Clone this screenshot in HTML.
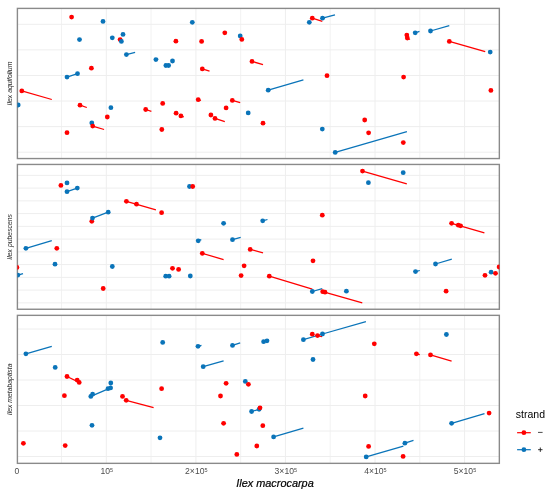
<!DOCTYPE html><html><head><meta charset="utf-8"><style>html,body{margin:0;padding:0;background:#fff;}svg{display:block;}text{font-family:"Liberation Sans",sans-serif;}</style></head><body>
<div style="width:550px;height:494px;will-change:transform;background:#fff"><svg width="550" height="494" viewBox="0 0 550 494">
<rect width="550" height="494" fill="#fff"/>
<defs>
<clipPath id="c0"><rect x="17.4" y="8.4" width="482.0" height="150.2"/></clipPath>
<clipPath id="c1"><rect x="17.4" y="164.45" width="482.0" height="144.8"/></clipPath>
<clipPath id="c2"><rect x="17.4" y="315.35" width="482.0" height="148.0"/></clipPath>
</defs>
<g clip-path="url(#c0)"><line x1="61.5" y1="8.4" x2="61.5" y2="158.55" stroke="#f1f1f1" stroke-width="0.9"/><line x1="151.1" y1="8.4" x2="151.1" y2="158.55" stroke="#f1f1f1" stroke-width="0.9"/><line x1="240.7" y1="8.4" x2="240.7" y2="158.55" stroke="#f1f1f1" stroke-width="0.9"/><line x1="330.2" y1="8.4" x2="330.2" y2="158.55" stroke="#f1f1f1" stroke-width="0.9"/><line x1="419.8" y1="8.4" x2="419.8" y2="158.55" stroke="#f1f1f1" stroke-width="0.9"/><line x1="106.3" y1="8.4" x2="106.3" y2="158.55" stroke="#eeeeee" stroke-width="1"/><line x1="195.9" y1="8.4" x2="195.9" y2="158.55" stroke="#eeeeee" stroke-width="1"/><line x1="285.4" y1="8.4" x2="285.4" y2="158.55" stroke="#eeeeee" stroke-width="1"/><line x1="375.0" y1="8.4" x2="375.0" y2="158.55" stroke="#eeeeee" stroke-width="1"/><line x1="464.6" y1="8.4" x2="464.6" y2="158.55" stroke="#eeeeee" stroke-width="1"/><line x1="17.4" y1="24.3" x2="499.35" y2="24.3" stroke="#eeeeee" stroke-width="1"/><line x1="17.4" y1="49.879999999999995" x2="499.35" y2="49.879999999999995" stroke="#eeeeee" stroke-width="1"/><line x1="17.4" y1="75.46" x2="499.35" y2="75.46" stroke="#eeeeee" stroke-width="1"/><line x1="17.4" y1="101.03999999999999" x2="499.35" y2="101.03999999999999" stroke="#eeeeee" stroke-width="1"/><line x1="17.4" y1="126.61999999999999" x2="499.35" y2="126.61999999999999" stroke="#eeeeee" stroke-width="1"/><line x1="17.4" y1="152.2" x2="499.35" y2="152.2" stroke="#eeeeee" stroke-width="1"/></g>
<rect x="17.4" y="8.4" width="481.95" height="150.15" fill="none" stroke="#8a8a8a" stroke-width="1.4"/>
<g clip-path="url(#c0)">
<line x1="67.0" y1="77.10" x2="77.5" y2="73.70" stroke="#0a74b9" stroke-width="1.25"/>
<line x1="126.4" y1="54.60" x2="135.1" y2="52.30" stroke="#0a74b9" stroke-width="1.25"/>
<line x1="155.9" y1="59.60" x2="158.2" y2="58.90" stroke="#0a74b9" stroke-width="1.25"/>
<line x1="202.3" y1="68.90" x2="209.5" y2="71.20" stroke="#ff0000" stroke-width="1.25"/>
<line x1="252.0" y1="61.40" x2="263.0" y2="64.60" stroke="#ff0000" stroke-width="1.25"/>
<line x1="312.3" y1="18.20" x2="322.3" y2="21.40" stroke="#ff0000" stroke-width="1.25"/>
<line x1="322.5" y1="18.20" x2="335.0" y2="14.80" stroke="#0a74b9" stroke-width="1.25"/>
<line x1="407.3" y1="38.00" x2="410.0" y2="39.50" stroke="#ff0000" stroke-width="1.25"/>
<line x1="415.2" y1="32.80" x2="419.5" y2="31.40" stroke="#0a74b9" stroke-width="1.25"/>
<line x1="430.5" y1="31.00" x2="449.3" y2="25.70" stroke="#0a74b9" stroke-width="1.25"/>
<line x1="449.3" y1="41.40" x2="485.2" y2="51.70" stroke="#ff0000" stroke-width="1.25"/>
<line x1="21.8" y1="90.90" x2="51.8" y2="99.50" stroke="#ff0000" stroke-width="1.25"/>
<line x1="80.0" y1="105.20" x2="86.8" y2="107.50" stroke="#ff0000" stroke-width="1.25"/>
<line x1="92.7" y1="126.10" x2="104.1" y2="129.50" stroke="#ff0000" stroke-width="1.25"/>
<line x1="145.7" y1="109.50" x2="151.4" y2="111.30" stroke="#ff0000" stroke-width="1.25"/>
<line x1="198.2" y1="99.70" x2="201.0" y2="100.50" stroke="#ff0000" stroke-width="1.25"/>
<line x1="180.9" y1="115.90" x2="183.9" y2="117.00" stroke="#ff0000" stroke-width="1.25"/>
<line x1="215.0" y1="118.40" x2="224.8" y2="121.60" stroke="#ff0000" stroke-width="1.25"/>
<line x1="232.3" y1="100.40" x2="240.2" y2="102.70" stroke="#ff0000" stroke-width="1.25"/>
<line x1="268.2" y1="90.20" x2="303.4" y2="79.80" stroke="#0a74b9" stroke-width="1.25"/>
<line x1="335.2" y1="152.40" x2="406.9" y2="131.60" stroke="#0a74b9" stroke-width="1.25"/>
<circle cx="71.6" cy="17.10" r="2.4" fill="#ff0000"/>
<circle cx="103.0" cy="21.40" r="2.4" fill="#0a74b9"/>
<circle cx="79.5" cy="39.60" r="2.4" fill="#0a74b9"/>
<circle cx="112.3" cy="37.80" r="2.4" fill="#0a74b9"/>
<circle cx="123.0" cy="34.40" r="2.4" fill="#0a74b9"/>
<circle cx="120.1" cy="39.60" r="2.4" fill="#ff0000"/>
<circle cx="121.4" cy="41.40" r="2.4" fill="#0a74b9"/>
<circle cx="126.4" cy="54.60" r="2.4" fill="#0a74b9"/>
<circle cx="91.4" cy="68.20" r="2.4" fill="#ff0000"/>
<circle cx="67.0" cy="77.10" r="2.4" fill="#0a74b9"/>
<circle cx="77.5" cy="73.70" r="2.4" fill="#0a74b9"/>
<circle cx="192.3" cy="22.30" r="2.4" fill="#0a74b9"/>
<circle cx="175.9" cy="41.20" r="2.4" fill="#ff0000"/>
<circle cx="201.6" cy="41.40" r="2.4" fill="#ff0000"/>
<circle cx="224.8" cy="32.80" r="2.4" fill="#ff0000"/>
<circle cx="240.2" cy="36.00" r="2.4" fill="#0a74b9"/>
<circle cx="241.8" cy="39.40" r="2.4" fill="#ff0000"/>
<circle cx="155.9" cy="59.60" r="2.4" fill="#0a74b9"/>
<circle cx="165.9" cy="65.50" r="2.4" fill="#0a74b9"/>
<circle cx="168.6" cy="65.50" r="2.4" fill="#0a74b9"/>
<circle cx="172.5" cy="61.00" r="2.4" fill="#0a74b9"/>
<circle cx="202.3" cy="68.90" r="2.4" fill="#ff0000"/>
<circle cx="252.0" cy="61.40" r="2.4" fill="#ff0000"/>
<circle cx="309.3" cy="22.30" r="2.4" fill="#0a74b9"/>
<circle cx="312.3" cy="18.20" r="2.4" fill="#ff0000"/>
<circle cx="322.5" cy="18.20" r="2.4" fill="#0a74b9"/>
<circle cx="327.0" cy="75.70" r="2.4" fill="#ff0000"/>
<circle cx="406.8" cy="35.10" r="2.4" fill="#ff0000"/>
<circle cx="407.3" cy="38.00" r="2.4" fill="#ff0000"/>
<circle cx="415.2" cy="32.80" r="2.4" fill="#0a74b9"/>
<circle cx="430.5" cy="31.00" r="2.4" fill="#0a74b9"/>
<circle cx="449.3" cy="41.40" r="2.4" fill="#ff0000"/>
<circle cx="490.2" cy="52.10" r="2.4" fill="#0a74b9"/>
<circle cx="403.6" cy="77.10" r="2.4" fill="#ff0000"/>
<circle cx="21.8" cy="90.90" r="2.4" fill="#ff0000"/>
<circle cx="18.2" cy="105.00" r="2.4" fill="#0a74b9"/>
<circle cx="80.0" cy="105.20" r="2.4" fill="#ff0000"/>
<circle cx="110.9" cy="107.70" r="2.4" fill="#0a74b9"/>
<circle cx="107.3" cy="117.00" r="2.4" fill="#ff0000"/>
<circle cx="91.8" cy="122.90" r="2.4" fill="#0a74b9"/>
<circle cx="92.7" cy="126.10" r="2.4" fill="#ff0000"/>
<circle cx="67.0" cy="132.70" r="2.4" fill="#ff0000"/>
<circle cx="145.7" cy="109.50" r="2.4" fill="#ff0000"/>
<circle cx="162.7" cy="103.40" r="2.4" fill="#ff0000"/>
<circle cx="161.8" cy="129.50" r="2.4" fill="#ff0000"/>
<circle cx="176.1" cy="113.20" r="2.4" fill="#ff0000"/>
<circle cx="180.9" cy="115.90" r="2.4" fill="#ff0000"/>
<circle cx="198.2" cy="99.70" r="2.4" fill="#ff0000"/>
<circle cx="210.9" cy="115.00" r="2.4" fill="#ff0000"/>
<circle cx="215.0" cy="118.40" r="2.4" fill="#ff0000"/>
<circle cx="226.1" cy="107.90" r="2.4" fill="#ff0000"/>
<circle cx="232.3" cy="100.40" r="2.4" fill="#ff0000"/>
<circle cx="248.2" cy="112.90" r="2.4" fill="#0a74b9"/>
<circle cx="268.2" cy="90.20" r="2.4" fill="#0a74b9"/>
<circle cx="263.0" cy="123.20" r="2.4" fill="#ff0000"/>
<circle cx="322.3" cy="129.10" r="2.4" fill="#0a74b9"/>
<circle cx="364.7" cy="120.00" r="2.4" fill="#ff0000"/>
<circle cx="368.6" cy="132.80" r="2.4" fill="#ff0000"/>
<circle cx="335.2" cy="152.40" r="2.4" fill="#0a74b9"/>
<circle cx="490.9" cy="90.40" r="2.4" fill="#ff0000"/>
<circle cx="403.3" cy="142.60" r="2.4" fill="#ff0000"/>
</g>
<text x="0" y="0" transform="translate(12.2,83.5) rotate(-90)" text-anchor="middle" font-size="6.85" font-style="italic" fill="#262626">Ilex aquifolium</text>
<g clip-path="url(#c1)"><line x1="61.5" y1="164.45" x2="61.5" y2="309.25" stroke="#f1f1f1" stroke-width="0.9"/><line x1="151.1" y1="164.45" x2="151.1" y2="309.25" stroke="#f1f1f1" stroke-width="0.9"/><line x1="240.7" y1="164.45" x2="240.7" y2="309.25" stroke="#f1f1f1" stroke-width="0.9"/><line x1="330.2" y1="164.45" x2="330.2" y2="309.25" stroke="#f1f1f1" stroke-width="0.9"/><line x1="419.8" y1="164.45" x2="419.8" y2="309.25" stroke="#f1f1f1" stroke-width="0.9"/><line x1="106.3" y1="164.45" x2="106.3" y2="309.25" stroke="#eeeeee" stroke-width="1"/><line x1="195.9" y1="164.45" x2="195.9" y2="309.25" stroke="#eeeeee" stroke-width="1"/><line x1="285.4" y1="164.45" x2="285.4" y2="309.25" stroke="#eeeeee" stroke-width="1"/><line x1="375.0" y1="164.45" x2="375.0" y2="309.25" stroke="#eeeeee" stroke-width="1"/><line x1="464.6" y1="164.45" x2="464.6" y2="309.25" stroke="#eeeeee" stroke-width="1"/><line x1="17.4" y1="175.35" x2="499.35" y2="175.35" stroke="#eeeeee" stroke-width="1"/><line x1="17.4" y1="188.1" x2="499.35" y2="188.1" stroke="#eeeeee" stroke-width="1"/><line x1="17.4" y1="200.85" x2="499.35" y2="200.85" stroke="#eeeeee" stroke-width="1"/><line x1="17.4" y1="213.6" x2="499.35" y2="213.6" stroke="#eeeeee" stroke-width="1"/><line x1="17.4" y1="226.35" x2="499.35" y2="226.35" stroke="#eeeeee" stroke-width="1"/><line x1="17.4" y1="239.1" x2="499.35" y2="239.1" stroke="#eeeeee" stroke-width="1"/><line x1="17.4" y1="251.85" x2="499.35" y2="251.85" stroke="#eeeeee" stroke-width="1"/><line x1="17.4" y1="264.6" x2="499.35" y2="264.6" stroke="#eeeeee" stroke-width="1"/><line x1="17.4" y1="277.35" x2="499.35" y2="277.35" stroke="#eeeeee" stroke-width="1"/><line x1="17.4" y1="290.1" x2="499.35" y2="290.1" stroke="#eeeeee" stroke-width="1"/><line x1="17.4" y1="302.85" x2="499.35" y2="302.85" stroke="#eeeeee" stroke-width="1"/></g>
<rect x="17.4" y="164.45" width="481.95" height="144.80" fill="none" stroke="#8a8a8a" stroke-width="1.4"/>
<g clip-path="url(#c1)">
<line x1="67.0" y1="191.70" x2="77.3" y2="188.10" stroke="#0a74b9" stroke-width="1.25"/>
<line x1="126.4" y1="201.30" x2="155.9" y2="209.90" stroke="#ff0000" stroke-width="1.25"/>
<line x1="92.5" y1="218.10" x2="108.2" y2="212.20" stroke="#0a74b9" stroke-width="1.25"/>
<line x1="362.5" y1="171.10" x2="406.8" y2="183.80" stroke="#ff0000" stroke-width="1.25"/>
<line x1="262.7" y1="220.80" x2="267.5" y2="219.50" stroke="#0a74b9" stroke-width="1.25"/>
<line x1="451.6" y1="223.30" x2="484.4" y2="232.80" stroke="#ff0000" stroke-width="1.25"/>
<line x1="25.9" y1="248.30" x2="51.8" y2="240.60" stroke="#0a74b9" stroke-width="1.25"/>
<line x1="17.9" y1="275.10" x2="23.0" y2="273.70" stroke="#0a74b9" stroke-width="1.25"/>
<line x1="232.5" y1="239.70" x2="240.7" y2="237.40" stroke="#0a74b9" stroke-width="1.25"/>
<line x1="202.3" y1="253.30" x2="223.6" y2="259.70" stroke="#ff0000" stroke-width="1.25"/>
<line x1="250.2" y1="249.40" x2="263.0" y2="252.80" stroke="#ff0000" stroke-width="1.25"/>
<line x1="269.3" y1="276.20" x2="312.3" y2="289.20" stroke="#ff0000" stroke-width="1.25"/>
<line x1="322.7" y1="291.70" x2="362.3" y2="302.80" stroke="#ff0000" stroke-width="1.25"/>
<line x1="312.3" y1="291.50" x2="322.3" y2="288.70" stroke="#0a74b9" stroke-width="1.25"/>
<line x1="435.5" y1="264.00" x2="451.8" y2="259.20" stroke="#0a74b9" stroke-width="1.25"/>
<line x1="415.5" y1="271.60" x2="419.8" y2="270.50" stroke="#0a74b9" stroke-width="1.25"/>
<line x1="198.2" y1="240.70" x2="201.3" y2="239.60" stroke="#0a74b9" stroke-width="1.25"/>
<circle cx="60.9" cy="185.40" r="2.4" fill="#ff0000"/>
<circle cx="67.0" cy="182.90" r="2.4" fill="#0a74b9"/>
<circle cx="67.0" cy="191.70" r="2.4" fill="#0a74b9"/>
<circle cx="77.3" cy="188.10" r="2.4" fill="#0a74b9"/>
<circle cx="126.4" cy="201.30" r="2.4" fill="#ff0000"/>
<circle cx="136.5" cy="204.20" r="2.4" fill="#ff0000"/>
<circle cx="91.8" cy="221.30" r="2.4" fill="#ff0000"/>
<circle cx="92.5" cy="218.10" r="2.4" fill="#0a74b9"/>
<circle cx="108.2" cy="212.20" r="2.4" fill="#0a74b9"/>
<circle cx="161.6" cy="212.70" r="2.4" fill="#ff0000"/>
<circle cx="189.5" cy="186.50" r="2.4" fill="#0a74b9"/>
<circle cx="192.7" cy="186.50" r="2.4" fill="#ff0000"/>
<circle cx="223.6" cy="223.30" r="2.4" fill="#0a74b9"/>
<circle cx="362.5" cy="171.10" r="2.4" fill="#ff0000"/>
<circle cx="368.4" cy="182.70" r="2.4" fill="#0a74b9"/>
<circle cx="322.3" cy="215.20" r="2.4" fill="#ff0000"/>
<circle cx="262.7" cy="220.80" r="2.4" fill="#0a74b9"/>
<circle cx="403.2" cy="172.70" r="2.4" fill="#0a74b9"/>
<circle cx="451.6" cy="223.30" r="2.4" fill="#ff0000"/>
<circle cx="458.3" cy="225.20" r="2.4" fill="#ff0000"/>
<circle cx="460.6" cy="225.80" r="2.4" fill="#ff0000"/>
<circle cx="25.9" cy="248.30" r="2.4" fill="#0a74b9"/>
<circle cx="56.8" cy="248.30" r="2.4" fill="#ff0000"/>
<circle cx="55.0" cy="264.20" r="2.4" fill="#0a74b9"/>
<circle cx="16.9" cy="267.40" r="2.4" fill="#ff0000"/>
<circle cx="17.9" cy="275.10" r="2.4" fill="#0a74b9"/>
<circle cx="112.3" cy="266.50" r="2.4" fill="#0a74b9"/>
<circle cx="103.2" cy="288.50" r="2.4" fill="#ff0000"/>
<circle cx="198.2" cy="240.80" r="2.4" fill="#0a74b9"/>
<circle cx="232.5" cy="239.70" r="2.4" fill="#0a74b9"/>
<circle cx="202.3" cy="253.30" r="2.4" fill="#ff0000"/>
<circle cx="250.2" cy="249.40" r="2.4" fill="#ff0000"/>
<circle cx="172.5" cy="268.30" r="2.4" fill="#ff0000"/>
<circle cx="178.6" cy="269.40" r="2.4" fill="#ff0000"/>
<circle cx="165.7" cy="276.20" r="2.4" fill="#0a74b9"/>
<circle cx="169.1" cy="276.20" r="2.4" fill="#0a74b9"/>
<circle cx="190.3" cy="276.00" r="2.4" fill="#0a74b9"/>
<circle cx="244.1" cy="265.80" r="2.4" fill="#ff0000"/>
<circle cx="241.1" cy="275.60" r="2.4" fill="#ff0000"/>
<circle cx="313.0" cy="260.80" r="2.4" fill="#ff0000"/>
<circle cx="269.3" cy="276.20" r="2.4" fill="#ff0000"/>
<circle cx="312.3" cy="291.50" r="2.4" fill="#0a74b9"/>
<circle cx="322.7" cy="291.70" r="2.4" fill="#ff0000"/>
<circle cx="325.0" cy="292.20" r="2.4" fill="#ff0000"/>
<circle cx="346.4" cy="291.20" r="2.4" fill="#0a74b9"/>
<circle cx="415.5" cy="271.60" r="2.4" fill="#0a74b9"/>
<circle cx="435.5" cy="264.00" r="2.4" fill="#0a74b9"/>
<circle cx="446.1" cy="291.20" r="2.4" fill="#ff0000"/>
<circle cx="485.0" cy="275.30" r="2.4" fill="#ff0000"/>
<circle cx="491.1" cy="272.20" r="2.4" fill="#0a74b9"/>
<circle cx="495.5" cy="273.30" r="2.4" fill="#ff0000"/>
<circle cx="499.1" cy="267.00" r="2.4" fill="#ff0000"/>
</g>
<text x="0" y="0" transform="translate(12.2,236.8) rotate(-90)" text-anchor="middle" font-size="6.85" font-style="italic" fill="#262626">Ilex pubescens</text>
<g clip-path="url(#c2)"><line x1="61.5" y1="315.35" x2="61.5" y2="463.35" stroke="#f1f1f1" stroke-width="0.9"/><line x1="151.1" y1="315.35" x2="151.1" y2="463.35" stroke="#f1f1f1" stroke-width="0.9"/><line x1="240.7" y1="315.35" x2="240.7" y2="463.35" stroke="#f1f1f1" stroke-width="0.9"/><line x1="330.2" y1="315.35" x2="330.2" y2="463.35" stroke="#f1f1f1" stroke-width="0.9"/><line x1="419.8" y1="315.35" x2="419.8" y2="463.35" stroke="#f1f1f1" stroke-width="0.9"/><line x1="106.3" y1="315.35" x2="106.3" y2="463.35" stroke="#eeeeee" stroke-width="1"/><line x1="195.9" y1="315.35" x2="195.9" y2="463.35" stroke="#eeeeee" stroke-width="1"/><line x1="285.4" y1="315.35" x2="285.4" y2="463.35" stroke="#eeeeee" stroke-width="1"/><line x1="375.0" y1="315.35" x2="375.0" y2="463.35" stroke="#eeeeee" stroke-width="1"/><line x1="464.6" y1="315.35" x2="464.6" y2="463.35" stroke="#eeeeee" stroke-width="1"/><line x1="17.4" y1="329.0" x2="499.35" y2="329.0" stroke="#eeeeee" stroke-width="1"/><line x1="17.4" y1="354.5" x2="499.35" y2="354.5" stroke="#eeeeee" stroke-width="1"/><line x1="17.4" y1="380.0" x2="499.35" y2="380.0" stroke="#eeeeee" stroke-width="1"/><line x1="17.4" y1="405.5" x2="499.35" y2="405.5" stroke="#eeeeee" stroke-width="1"/><line x1="17.4" y1="431.0" x2="499.35" y2="431.0" stroke="#eeeeee" stroke-width="1"/><line x1="17.4" y1="456.5" x2="499.35" y2="456.5" stroke="#eeeeee" stroke-width="1"/></g>
<rect x="17.4" y="315.35" width="481.95" height="148.00" fill="none" stroke="#8a8a8a" stroke-width="1.4"/>
<g clip-path="url(#c2)">
<line x1="25.9" y1="353.80" x2="51.8" y2="346.30" stroke="#0a74b9" stroke-width="1.25"/>
<line x1="67.0" y1="376.50" x2="79.2" y2="382.40" stroke="#ff0000" stroke-width="1.25"/>
<line x1="90.8" y1="396.40" x2="110.6" y2="387.90" stroke="#0a74b9" stroke-width="1.25"/>
<line x1="232.5" y1="345.40" x2="240.2" y2="342.90" stroke="#0a74b9" stroke-width="1.25"/>
<line x1="203.2" y1="366.70" x2="223.6" y2="360.80" stroke="#0a74b9" stroke-width="1.25"/>
<line x1="303.4" y1="339.70" x2="322.5" y2="334.00" stroke="#0a74b9" stroke-width="1.25"/>
<line x1="317.5" y1="335.60" x2="322.0" y2="336.70" stroke="#ff0000" stroke-width="1.25"/>
<line x1="322.5" y1="334.00" x2="365.9" y2="321.70" stroke="#0a74b9" stroke-width="1.25"/>
<line x1="416.4" y1="353.80" x2="419.8" y2="354.70" stroke="#ff0000" stroke-width="1.25"/>
<line x1="430.5" y1="354.90" x2="451.6" y2="361.10" stroke="#ff0000" stroke-width="1.25"/>
<line x1="126.2" y1="400.30" x2="153.6" y2="407.60" stroke="#ff0000" stroke-width="1.25"/>
<line x1="251.6" y1="411.50" x2="259.1" y2="409.30" stroke="#0a74b9" stroke-width="1.25"/>
<line x1="273.6" y1="436.90" x2="303.4" y2="428.10" stroke="#0a74b9" stroke-width="1.25"/>
<line x1="366.2" y1="456.90" x2="403.4" y2="446.10" stroke="#0a74b9" stroke-width="1.25"/>
<line x1="404.9" y1="443.20" x2="413.5" y2="440.40" stroke="#0a74b9" stroke-width="1.25"/>
<line x1="451.6" y1="423.30" x2="484.5" y2="413.70" stroke="#0a74b9" stroke-width="1.25"/>
<line x1="198.0" y1="346.30" x2="201.5" y2="345.30" stroke="#0a74b9" stroke-width="1.25"/>
<circle cx="25.9" cy="353.80" r="2.4" fill="#0a74b9"/>
<circle cx="55.2" cy="367.40" r="2.4" fill="#0a74b9"/>
<circle cx="67.0" cy="376.50" r="2.4" fill="#ff0000"/>
<circle cx="77.2" cy="380.10" r="2.4" fill="#ff0000"/>
<circle cx="79.2" cy="382.40" r="2.4" fill="#ff0000"/>
<circle cx="110.8" cy="383.00" r="2.4" fill="#0a74b9"/>
<circle cx="108.0" cy="388.70" r="2.4" fill="#0a74b9"/>
<circle cx="110.6" cy="387.90" r="2.4" fill="#0a74b9"/>
<circle cx="90.8" cy="396.40" r="2.4" fill="#0a74b9"/>
<circle cx="92.6" cy="394.20" r="2.4" fill="#0a74b9"/>
<circle cx="162.7" cy="342.40" r="2.4" fill="#0a74b9"/>
<circle cx="198.0" cy="346.30" r="2.4" fill="#0a74b9"/>
<circle cx="232.5" cy="345.40" r="2.4" fill="#0a74b9"/>
<circle cx="203.2" cy="366.70" r="2.4" fill="#0a74b9"/>
<circle cx="226.1" cy="383.30" r="2.4" fill="#ff0000"/>
<circle cx="245.3" cy="381.40" r="2.4" fill="#0a74b9"/>
<circle cx="248.4" cy="384.30" r="2.4" fill="#ff0000"/>
<circle cx="161.6" cy="388.70" r="2.4" fill="#ff0000"/>
<circle cx="263.6" cy="341.70" r="2.4" fill="#0a74b9"/>
<circle cx="267.0" cy="340.80" r="2.4" fill="#0a74b9"/>
<circle cx="303.4" cy="339.70" r="2.4" fill="#0a74b9"/>
<circle cx="312.3" cy="334.20" r="2.4" fill="#ff0000"/>
<circle cx="317.5" cy="335.60" r="2.4" fill="#ff0000"/>
<circle cx="322.5" cy="334.00" r="2.4" fill="#0a74b9"/>
<circle cx="313.0" cy="359.50" r="2.4" fill="#0a74b9"/>
<circle cx="374.3" cy="343.80" r="2.4" fill="#ff0000"/>
<circle cx="446.4" cy="334.50" r="2.4" fill="#0a74b9"/>
<circle cx="416.4" cy="353.80" r="2.4" fill="#ff0000"/>
<circle cx="430.5" cy="354.90" r="2.4" fill="#ff0000"/>
<circle cx="64.4" cy="395.70" r="2.4" fill="#ff0000"/>
<circle cx="122.5" cy="396.40" r="2.4" fill="#ff0000"/>
<circle cx="126.2" cy="400.30" r="2.4" fill="#ff0000"/>
<circle cx="92.0" cy="425.30" r="2.4" fill="#0a74b9"/>
<circle cx="23.4" cy="443.30" r="2.4" fill="#ff0000"/>
<circle cx="65.2" cy="445.60" r="2.4" fill="#ff0000"/>
<circle cx="220.5" cy="396.00" r="2.4" fill="#ff0000"/>
<circle cx="223.6" cy="423.30" r="2.4" fill="#ff0000"/>
<circle cx="160.0" cy="437.80" r="2.4" fill="#0a74b9"/>
<circle cx="236.8" cy="454.40" r="2.4" fill="#ff0000"/>
<circle cx="256.8" cy="446.00" r="2.4" fill="#ff0000"/>
<circle cx="251.6" cy="411.50" r="2.4" fill="#0a74b9"/>
<circle cx="259.1" cy="409.30" r="2.4" fill="#0a74b9"/>
<circle cx="260.0" cy="407.80" r="2.4" fill="#ff0000"/>
<circle cx="262.8" cy="425.70" r="2.4" fill="#ff0000"/>
<circle cx="273.6" cy="436.90" r="2.4" fill="#0a74b9"/>
<circle cx="365.2" cy="396.00" r="2.4" fill="#ff0000"/>
<circle cx="368.6" cy="446.40" r="2.4" fill="#ff0000"/>
<circle cx="366.2" cy="456.90" r="2.4" fill="#0a74b9"/>
<circle cx="404.9" cy="443.20" r="2.4" fill="#0a74b9"/>
<circle cx="403.1" cy="456.40" r="2.4" fill="#ff0000"/>
<circle cx="451.6" cy="423.30" r="2.4" fill="#0a74b9"/>
<circle cx="489.1" cy="413.10" r="2.4" fill="#ff0000"/>
</g>
<text x="0" y="0" transform="translate(12.2,389.4) rotate(-90)" text-anchor="middle" font-size="6.85" font-style="italic" fill="#262626">Ilex metabaptista</text>
<text x="16.8" y="474.3" text-anchor="middle" font-size="8.6" fill="#4d4d4d">0</text>
<text x="106.7" y="474.3" text-anchor="middle" font-size="8.6" fill="#4d4d4d">10<tspan font-size="5.5" dy="-2.5">5</tspan></text>
<text x="196.3" y="474.3" text-anchor="middle" font-size="8.6" fill="#4d4d4d">2×10<tspan font-size="5.5" dy="-2.5">5</tspan></text>
<text x="285.8" y="474.3" text-anchor="middle" font-size="8.6" fill="#4d4d4d">3×10<tspan font-size="5.5" dy="-2.5">5</tspan></text>
<text x="375.4" y="474.3" text-anchor="middle" font-size="8.6" fill="#4d4d4d">4×10<tspan font-size="5.5" dy="-2.5">5</tspan></text>
<text x="465.0" y="474.3" text-anchor="middle" font-size="8.6" fill="#4d4d4d">5×10<tspan font-size="5.5" dy="-2.5">5</tspan></text>
<text x="275" y="487.4" text-anchor="middle" font-size="10.9" font-style="italic" fill="#000" stroke="#000" stroke-width="0.2">Ilex macrocarpa</text>
<text x="515.8" y="417.6" font-size="10.5" fill="#000">strand</text>
<line x1="517.1" y1="432.7" x2="530.8" y2="432.7" stroke="#ff0000" stroke-width="1.2"/><circle cx="523.9" cy="432.7" r="2.4" fill="#ff0000"/>
<line x1="517.1" y1="449.7" x2="530.8" y2="449.7" stroke="#0a74b9" stroke-width="1.2"/><circle cx="523.9" cy="449.7" r="2.4" fill="#0a74b9"/>
<line x1="538.0" y1="432.4" x2="542.6" y2="432.4" stroke="#2a2a2a" stroke-width="0.85"/>
<line x1="538.1" y1="449.7" x2="542.5" y2="449.7" stroke="#1a1a1a" stroke-width="0.9"/><line x1="540.3" y1="447.5" x2="540.3" y2="451.9" stroke="#1a1a1a" stroke-width="0.9"/>
</svg></div></body></html>
